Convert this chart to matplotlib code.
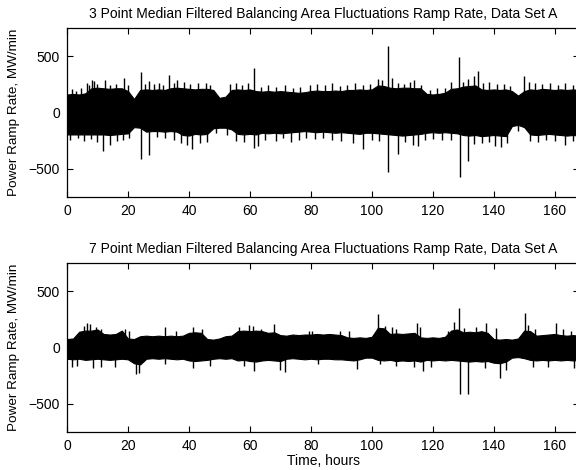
import numpy as np
import matplotlib
matplotlib.use("Agg")
import matplotlib.pyplot as plt

plt.rcParams['font.family'] = ['Liberation Sans', 'DejaVu Sans']

# envelope of the dense ramp-rate band, read every 2 hours (MW/min)
hours = np.arange(0, 169, 2)

band3_hi = [160, 165, 160, 170, 215, 220, 215, 210, 215, 215, 190, 120,
            200, 205, 200, 205, 200, 215, 220, 215, 210, 205, 210, 210, 200,
            130, 140, 200, 205, 200, 205, 190, 185, 190, 185, 190, 185, 180, 175,
            180, 190, 195, 190, 190, 195, 190, 200, 200, 205, 200, 205, 240, 235,
            220, 215, 220, 220, 215, 215, 165, 160, 165, 175, 210, 215,
            230, 235, 240, 205, 200, 205, 200, 205, 190, 150, 190,
            205, 200, 210, 205, 200, 205, 200, 205, 200]
band3_lo = [-195, -195, -195, -195, -195, -195, -195, -200, -195, -190, -185,
            -130, -135, -170, -165, -165, -170, -165, -170, -200, -205,
            -190, -195, -190, -140, -135, -135, -150, -190, -195, -190, -195,
            -180, -185, -180, -185, -180, -175, -170,
            -165, -170, -175, -170, -175, -180, -175, -180,
            -185, -190, -180, -180, -185, -190, -195, -200, -205, -200, -195, -190,
            -180, -175, -180, -175, -180, -185,
            -200, -205, -200, -210, -205, -200, -205, -210, -120, -110, -130,
            -195, -200, -195, -190, -195, -200, -205, -200, -205]

band7_hi = [75, 80, 140, 150, 150, 160, 120, 115, 120, 150, 80, 75,
            100, 105, 100, 105, 100, 105, 100, 105, 130, 135, 130, 75, 70, 80,
            100, 105, 145, 150, 145, 150, 145, 130, 135, 110, 105, 115, 110, 115,
            115, 120, 115, 120, 115, 110, 90, 85, 90, 85, 95, 175, 170,
            120, 125, 120, 125, 130, 90, 85, 90, 85, 95, 150, 160,
            135, 140, 135, 145, 130, 75, 70, 75, 70, 80, 150, 145,
            105, 110, 115, 120, 110, 105, 110, 105]
band7_lo = [-100, -105, -100, -110, -105, -100, -105, -110, -105, -100, -105,
            -140, -150, -100, -95, -100, -95, -100, -105, -100,
            -115, -120, -115, -110, -100, -95, -100, -95,
            -115, -110, -120, -125, -115, -110, -115, -120, -100,
            -95, -100, -105, -100, -105, -100, -100, -105, -105,
            -110, -115, -105, -90, -90, -110, -115, -110, -120, -115, -120, -115, -125,
            -110, -115, -110, -115, -110, -115, -120, -125, -120, -125, -120,
            -135, -140, -125, -90, -85, -95,
            -110, -115, -110, -115, -110, -115, -110, -115, -110]

# individual peaks sticking out of the band (hour, MW/min)
peaks3_t = [1.5, 3.0, 4.5, 6.5, 7.3, 8.2, 9.0, 10.0, 12.5, 14.0, 16.0, 18.8, 20.0,
            24.4, 25.6, 26.8, 28.5, 30.3, 31.5, 33.4, 35.0, 36.0, 38.5, 40.5,
            43.0, 45.5, 47.0, 53.5, 55.5, 57.5, 59.5, 61.3, 63.5, 66.0, 68.5,
            71.5, 74.0, 76.5, 79.6, 82.0, 84.5, 87.0, 89.5, 92.0, 94.5, 97.0,
            99.5, 102.0, 103.5, 105.2, 106.5, 108.5, 110.5, 112.5, 114.0, 116.0,
            119.0, 121.5, 124.0, 126.0, 128.6, 130.0, 131.5, 133.5, 134.9, 136.5,
            138.5, 141.0, 143.5, 145.5, 150.1, 151.5, 153.5, 156.0, 158.5, 161.0,
            163.5, 166.0]
peaks3_v = [205, 195, 215, 265, 240, 290, 280, 250, 285, 245, 255, 307, 240,
            360, 250, 280, 250, 265, 240, 330, 260, 290, 270, 250,
            265, 260, 245, 250, 265, 245, 260, 395, 230, 240, 225,
            240, 220, 230, 240, 255, 240, 260, 235, 245, 260, 240,
            250, 298, 290, 587, 310, 260, 250, 270, 290, 245,
            200, 215, 220, 270, 493, 275, 300, 320, 366, 260,
            270, 250, 255, 235, 322, 270, 260, 250, 265, 245,
            260, 240]
dips3_t = [1.0, 3.5, 5.5, 8.0, 10.0, 11.7, 14.1, 16.5, 18.5, 20.5, 24.2, 26.9,
           29.5, 32.0, 35.0, 37.5, 39.5, 40.9, 43.5, 46.0, 49.0, 52.5, 55.5,
           58.0, 61.3, 62.8, 65.0, 68.5, 71.0, 73.5, 76.0, 78.5, 81.5, 84.0,
           87.0, 90.0, 93.9, 97.2, 100.0, 102.5, 105.2, 108.6, 111.0, 113.5,
           115.0, 117.5, 120.0, 123.0, 126.0, 129.1, 131.6, 133.5, 136.0, 138.5,
           140.5, 142.5, 144.5, 148.0, 152.0, 154.5, 157.0, 160.0, 163.3, 166.0]
dips3_v = [-245, -230, -250, -235, -260, -342, -289, -250, -245, -230, -410, -380,
           -220, -230, -240, -270, -285, -327, -270, -265, -180, -200, -250,
           -265, -313, -300, -240, -250, -230, -260, -240, -225, -235, -230,
           -245, -250, -274, -322, -240, -255, -528, -372, -260, -290,
           -300, -240, -235, -245, -240, -569, -431, -280, -270, -260,
           -300, -310, -270, -160, -250, -260, -245, -255, -289, -250]

peaks7_t = [5.6, 6.7, 7.5, 9.6, 11.2, 18.9, 20.5, 32.0, 35.8, 41.3, 44.3,
            56.3, 59.6, 61.0, 63.5, 67.8, 79.3, 80.5, 89.5, 92.6, 102.1, 104.3,
            106.5, 108.0, 114.7, 115.7, 125.1, 127.1, 128.7, 130.4, 134.2, 137.5,
            140.8, 150.3, 151.2, 153.5, 160.4, 162.6, 165.3]
peaks7_v = [190, 221, 205, 186, 168, 162, 142, 180, 150, 186, 162,
            186, 200, 190, 160, 207, 145, 150, 142, 150, 300, 192,
            180, 165, 215, 186, 150, 229, 347, 175, 186, 215,
            175, 310, 200, 165, 215, 165, 150]
dips7_t = [1.6, 3.2, 8.5, 11.2, 15.6, 22.6, 23.7, 32.0, 41.3, 47.0, 58.0,
           61.2, 70.0, 71.6, 82.4, 95.0, 102.6, 108.0, 114.0, 116.8, 119.5,
           129.1, 131.5, 137.0, 142.2, 144.0, 152.8, 157.7, 166.5]
dips7_v = [-177, -168, -180, -170, -177, -236, -230, -150, -183, -167, -168,
           -207, -197, -216, -150, -190, -150, -160, -177, -211, -170,
           -413, -413, -180, -275, -200, -170, -177, -183]

titles = ['3 Point Median Filtered Balancing Area Fluctuations Ramp Rate, Data Set A',
          '7 Point Median Filtered Balancing Area Fluctuations Ramp Rate, Data Set A']

fig = plt.figure(figsize=(5.76, 4.70), dpi=100)
ax1 = fig.add_axes([0.1163, 0.5809, 0.889, 0.3595])
ax2 = fig.add_axes([0.1163, 0.0809, 0.889, 0.3595])

sets = [
    (ax1, band3_hi, band3_lo, peaks3_t, peaks3_v, dips3_t, dips3_v),
    (ax2, band7_hi, band7_lo, peaks7_t, peaks7_v, dips7_t, dips7_v),
]

for i, (ax, hi, lo, pt, pv, dt, dv) in enumerate(sets):
    ax.fill_between(hours, lo, hi, color='black', linewidth=0.8,
                    edgecolor='black')
    ax.vlines(pt, 0, pv, color='black', linewidth=1.0)
    ax.vlines(dt, 0, dv, color='black', linewidth=1.0)
    ax.set_xlim(0, 168)
    ax.set_ylim(-750, 750)
    ax.set_xticks(np.arange(0, 161, 20))
    ax.set_yticks([-500, 0, 500])
    ax.tick_params(direction='in', top=True, right=True, length=4,
                   width=0.8, labelsize=10, pad=5)
    for sp in ax.spines.values():
        sp.set_linewidth(0.9)
    ax.set_title(titles[i], fontsize=10, pad=7.5)
    ax.set_ylabel('Power Ramp Rate, MW/min', fontsize=9.7, labelpad=6)

ax2.set_xlabel('Time, hours', fontsize=10, labelpad=1)

fig.savefig('out.png', dpi=100)
